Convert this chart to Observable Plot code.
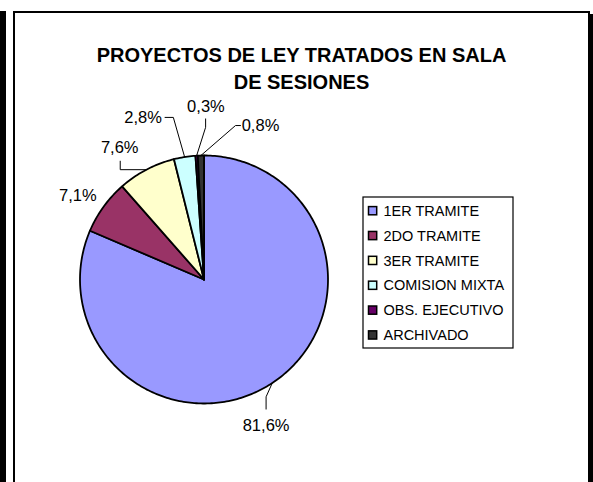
<!DOCTYPE html>
<html>
<head>
<meta charset="utf-8">
<script src="https://cdn.jsdelivr.net/npm/d3@7"></script>
<script src="https://cdn.jsdelivr.net/npm/@observablehq/plot@0.6"></script>
<style>
  html, body { margin: 0; padding: 0; background: #fff; overflow: hidden; }
  body { width: 593px; height: 482px; position: relative; font-family: "Liberation Sans", Arial, sans-serif; }
  #chart { position: absolute; left: 0; top: 0; }
  .bar-left { position: absolute; left: 0; top: 11px; width: 6px; height: 471px; background: #000; }
  .bar-right { position: absolute; left: 590px; top: 14px; width: 3px; height: 468px; background: #000; }
  .frame { position: absolute; left: 13px; top: 11px; width: 577px; height: 520px; box-sizing: border-box; border: 2px solid #000; }
  .title { position: absolute; left: 14px; top: 42px; width: 575px; text-align: center; font-weight: bold; font-size: 20px; line-height: 26.5px; color: #000; }
</style>
</head>
<body>
<div class="bar-left"></div>
<div class="bar-right"></div>
<div class="frame"></div>
<div id="chart"></div>
<div class="title">PROYECTOS DE LEY TRATADOS EN SALA<br>DE SESIONES</div>
<script>
// ---- data ----
const categories = ["1ER TRAMITE", "2DO TRAMITE", "3ER TRAMITE", "COMISION MIXTA", "OBS. EJECUTIVO", "ARCHIVADO"];
const values = [81.6, 7.1, 7.6, 2.8, 0.3, 0.8];
const valueLabels = ["81,6%", "7,1%", "7,6%", "2,8%", "0,3%", "0,8%"];
const colors = ["#9999FF", "#993366", "#FFFFCC", "#CCFFFF", "#660066", "#333333"];

// ---- layout ----
const W = 593, H = 482;
const cx = 203.5, cy = 279, R = 124;
// label text / leader offsets relative to each slice's mid-edge point
const labelLayout = [
  {text: [-6.2, 42.8], leader: [[-6.2, 13.8], [-6.2, 26.1]]},
  {text: [-25.8, -11.5], leader: []},
  {text: [-26.7, -21.8], leader: [[-26.2, 0], [-26.2, -8.5]]},
  {text: [-41.6, -39.6], leader: [[-11.3, -39.6], [-19.6, -39.6]]},
  {text: [9.3, -49.4], leader: [[9, -28.4], [9, -36.8]]},
  {text: [59.6, -30.3], leader: [[34.6, -30], [39.6, -30]]}
];
const legend = {x1: 363, x2: 513, y1: 197, y2: 348, sw: 368.5, size: 8.2, tx: 383, y0: 210.7, step: 24.85};

const arcs = d3.pie().sort(null).value(d => d)(values);
const pt = a => [cx + R * Math.sin(a), cy - R * Math.cos(a)];

const slicePts = [];
arcs.forEach((a, i) => {
  const cat = categories[i];
  slicePts.push({cat, x: cx, y: cy});
  const n = Math.max(2, Math.ceil((a.endAngle - a.startAngle) / (Math.PI / 180)));
  for (let k = 0; k <= n; k++) {
    const t = a.startAngle + (a.endAngle - a.startAngle) * k / n;
    const [x, y] = pt(t);
    slicePts.push({cat, x, y});
  }
  slicePts.push({cat, x: cx, y: cy});
});

const leaderPts = [];
const labelPts = [];
arcs.forEach((a, i) => {
  const [ax, ay] = pt((a.startAngle + a.endAngle) / 2);
  const L = labelLayout[i];
  if (L.leader.length) {
    leaderPts.push({i, x: ax, y: ay});
    L.leader.forEach(([dx, dy]) => leaderPts.push({i, x: ax + dx, y: ay + dy}));
  }
  labelPts.push({label: valueLabels[i], x: ax + L.text[0], y: ay + L.text[1]});
});

const legendRows = categories.map((c, i) => ({cat: c, y: legend.y0 + i * legend.step}));

const chart = Plot.plot({
  width: W,
  height: H,
  margin: 0,
  x: {domain: [0, W], range: [0, W], axis: null},
  y: {domain: [0, H], range: [0, H], axis: null},
  color: {domain: categories, range: colors},
  style: {fontFamily: '"Liberation Sans", Arial, sans-serif', background: "transparent", overflow: "visible"},
  marks: [
    Plot.line(slicePts, {x: "x", y: "y", z: "cat", fill: "cat", stroke: "black", strokeWidth: 1.8, curve: "linear", strokeLinejoin: "round"}),
    Plot.line(leaderPts, {x: "x", y: "y", z: "i", stroke: "black", strokeWidth: 1, curve: "linear"}),
    Plot.text(labelPts, {x: "x", y: "y", text: "label", fontSize: 16.5, fill: "black", textAnchor: "middle", lineAnchor: "middle"}),
    Plot.rect([legend], {x1: "x1", x2: "x2", y1: "y1", y2: "y2", fill: "white", stroke: "black", strokeWidth: 1.2}),
    Plot.rect(legendRows, {x1: () => legend.sw, x2: () => legend.sw + legend.size, y1: d => d.y - legend.size / 2, y2: d => d.y + legend.size / 2, fill: "cat", stroke: "black", strokeWidth: 1.5}),
    Plot.text(legendRows, {x: () => legend.tx, y: "y", text: "cat", fontSize: 14.5, fill: "black", textAnchor: "start", lineAnchor: "middle"})
  ]
});
document.getElementById("chart").appendChild(chart);
</script>
</body>
</html>
